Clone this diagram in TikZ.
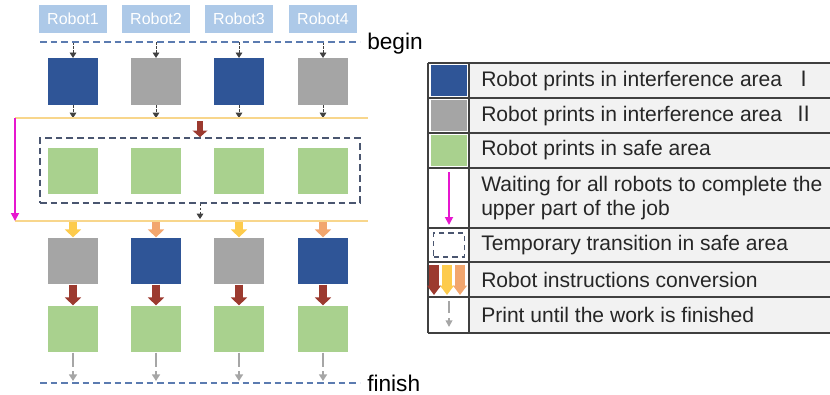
\documentclass[tikz,border=0pt]{standalone}
\usepackage{fontspec}
\setmainfont{Liberation Sans}
\newfontfamily\cjk{Noto Sans CJK SC}
\usetikzlibrary{arrows.meta,positioning}

\definecolor{areaone}{HTML}{2F5597}
\definecolor{areatwo}{HTML}{A5A5A5}
\definecolor{safearea}{HTML}{A9D18E}
\definecolor{robotlabel}{HTML}{ADC9E8}
\definecolor{stageline}{HTML}{F8D68C}
\definecolor{waitcolor}{HTML}{E617CF}
\definecolor{convred}{HTML}{9C3A2F}
\definecolor{convyellow}{HTML}{FDCB4C}
\definecolor{convorange}{HTML}{F2A66E}
\definecolor{limitline}{HTML}{5B7BB0}
\definecolor{boxline}{HTML}{4A5670}
\definecolor{cellgray}{HTML}{F2F2F2}
\definecolor{gridline}{HTML}{404040}
\definecolor{finishgray}{HTML}{A6A6A6}

\begin{document}
\begin{tikzpicture}
  [x=0.75pt,y=-0.75pt,line cap=butt,
   % Styles
   block/.style={minimum width=37.5pt,minimum height=35pt,inner sep=0pt},
   area one/.style={block,fill=areaone},
   area two/.style={block,fill=areatwo},
   safe/.style={block,fill=safearea},
   robot label/.style={fill=robotlabel,text=white,minimum width=51pt,
     minimum height=21pt,inner sep=0pt,font=\fontsize{12}{13}\selectfont},
   limit/.style={limitline,dash pattern=on 5pt off 3pt,line width=1pt},
   stage/.style={stageline,line width=1.2pt},
   small arrow/.style={gridline,dash pattern=on 2pt off 1pt,line width=0.6pt,
     -{Triangle[width=5pt,length=4pt]}},
   end arrow/.style={finishgray,dash pattern=on 11pt off 3pt,line width=1.6pt,
     -{Triangle[width=6pt,length=5pt]}},
   conv/.style={line width=6pt,-{Triangle[width=12pt,length=6pt]}},
   wait/.style={waitcolor,line width=1.3pt,-{Triangle[width=6pt,length=6pt]}},
   legend text/.style={anchor=west,text=black!85,align=left,inner sep=0pt,
     font=\fontsize{15.8}{18.5}\selectfont}]

  \useasboundingbox (0,0) rectangle (830,394);

  % Robots, blocks and arrows
  \foreach \i/\x/\top/\low/\turn in
    {1/73/area one/area two/convyellow,2/156/area two/area one/convorange,
     3/239/area one/area two/convyellow,4/323/area two/area one/convorange}{
    \node[robot label] (r\i) at (\x,19) {Robot\i};
    \node[\top] (a\i) at (\x,81.5) {};
    \node[safe] (b\i) at (\x,171) {};
    \node[\low] (c\i) at (\x,261) {};
    \node[safe] (d\i) at (\x,329) {};
    \coordinate (s\i) at (\x,42);
    \coordinate (u\i) at (\x,118);
    \coordinate (v\i) at (\x,221);
    \coordinate (f\i) at (\x,381);
    \draw[small arrow] (s\i) -- (a\i.north);
    \draw[small arrow] (a\i.south) -- (u\i);
    \draw[conv,\turn] (v\i) -- (c\i.north);
    \draw[conv,convred] (c\i.south) -- (d\i.north);
    \draw[end arrow] (d\i.south) -- (f\i);
  }

  % Begin and finish
  \draw[limit] (40,42) -- (360,42);
  \node[anchor=west,inner sep=0pt,font=\fontsize{17}{19}\selectfont] (begin) at (367,44) {begin};
  \draw[limit] (40,383) -- (360,383);
  \node[anchor=west,inner sep=0pt,font=\fontsize{17}{19}\selectfont] (finish) at (367,383) {finish};

  % Stage lines
  \coordinate (stage1) at (15,118);
  \coordinate (stage2) at (15,221);
  \draw[stage] (stage1) -- (368,118);
  \draw[stage] (stage2) -- (368,221);
  \draw[wait] (stage1) -- (stage2);

  % Temporary transition
  \node[draw=boxline,line width=1.2pt,dash pattern=on 5pt off 3pt,
    minimum width=240pt,minimum height=48.75pt] (transition) at (200,170.5) {};
  \coordinate (enter) at (200,121);
  \coordinate (leave) at (200,219);
  \draw[conv,convred,line width=5pt,-{Triangle[width=11pt,length=5pt]}] (enter) -- (transition.north);
  \draw[small arrow] (transition.south) -- (leave);

  % Legend
  \fill[cellgray] (469,63) rectangle (830,333);
  \foreach \y in {63,98,133,168,228,262,297,333}
    \draw[gridline,line width=0.8pt] (428,\y) -- (830,\y);
  \draw[gridline,line width=0.8pt] (428,63) -- (428,333);
  \draw[gridline,line width=1pt] (469,63) -- (469,333);

  \node[fill=areaone,minimum width=27pt,minimum height=23pt,inner sep=0pt] (k1) at (448.5,80.5) {};
  \node[fill=areatwo,minimum width=27pt,minimum height=23pt,inner sep=0pt] (k2) at (448.5,115.5) {};
  \node[fill=safearea,minimum width=27pt,minimum height=23pt,inner sep=0pt] (k3) at (448.5,150.5) {};
  \coordinate (k4a) at (449,172);
  \coordinate (k4b) at (449,225);
  \draw[wait] (k4a) -- (k4b);
  \node[draw=boxline,line width=1pt,dash pattern=on 4pt off 3pt,
    minimum width=23pt,minimum height=18pt,inner sep=0pt] (k5) at (449,245) {};
  \foreach \xx/\col in {434/convred,447/convyellow,460/convorange}{
    \coordinate (k6a) at (\xx,265);
    \coordinate (k6b) at (\xx,295);
    \draw[conv,\col,line width=7pt,-{Triangle[width=10pt,length=7pt]}] (k6a) -- (k6b);
  }
  \coordinate (k7a) at (449,301);
  \coordinate (k7b) at (449,327);
  \draw[end arrow,line width=1.2pt,dash pattern=on 9pt off 4pt,-{Triangle[width=5pt,length=5pt]}] (k7a) -- (k7b);

  \node[legend text] (t1) at (481,80.5) {Robot prints in interference area\hspace{0.55em}{\cjk Ⅰ}};
  \node[legend text] (t2) at (481,115.5) {Robot prints in interference area\hspace{0.55em}{\cjk Ⅱ}};
  \node[legend text] (t3) at (481,150.5) {Robot prints in safe area};
  \node[legend text] (t4) at (481,198) {Waiting for all robots to complete the\\upper part of the job};
  \node[legend text] (t5) at (481,245) {Temporary transition in safe area};
  \node[legend text] (t6) at (481,279.5) {Robot instructions conversion};
  \node[legend text] (t7) at (481,315) {Print until the work is finished};
\end{tikzpicture}
\end{document}
